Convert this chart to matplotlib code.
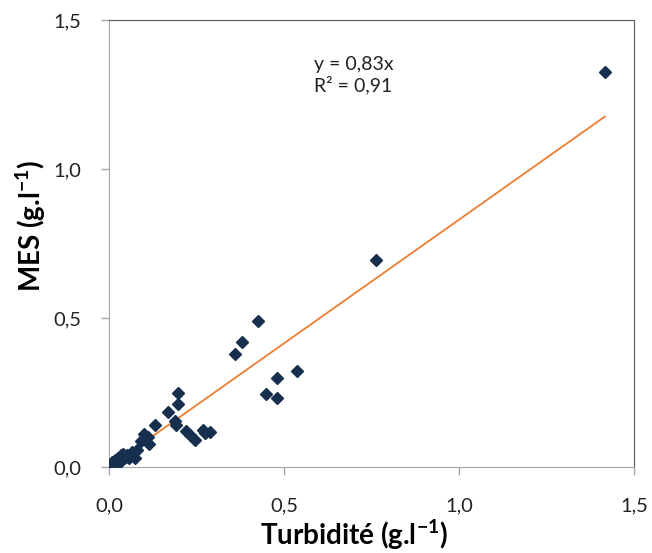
import numpy as np
import matplotlib.pyplot as plt

plt.rcParams['font.family'] = ['Lato', 'DejaVu Sans']
plt.rcParams['mathtext.fontset'] = 'custom'
plt.rcParams['mathtext.rm'] = 'Lato'
plt.rcParams['mathtext.bf'] = 'Lato:bold'

# Turbidity (x) vs MES (y), g/l
turbidite = [1.417, 0.763, 0.426, 0.380, 0.360, 0.537, 0.480, 0.449, 0.480,
             0.197, 0.197, 0.169, 0.189, 0.191, 0.131, 0.220, 0.231, 0.246,
             0.269, 0.274, 0.289, 0.100, 0.111, 0.114, 0.091, 0.080, 0.066,
             0.074, 0.009, 0.017, 0.026, 0.034, 0.043, 0.051, 0.031, 0.003,
             0.014, 0.057, 0.040, 0.048]
mes = [1.326, 0.695, 0.490, 0.419, 0.379, 0.322, 0.299, 0.245, 0.232,
       0.248, 0.211, 0.185, 0.154, 0.141, 0.141, 0.120, 0.107, 0.090,
       0.124, 0.114, 0.117, 0.110, 0.100, 0.077, 0.087, 0.057, 0.050,
       0.030, 0.017, 0.023, 0.030, 0.040, 0.030, 0.040, 0.017, 0.007,
       0.010, 0.030, 0.045, 0.035]
slope = 0.83
r2 = 0.91

ticks = [0.0, 0.5, 1.0, 1.5]
tick_labels = ['0,0', '0,5', '1,0', '1,5']

fig = plt.figure(figsize=(6.52, 5.53), dpi=100)
ax = fig.add_axes([0.1672, 0.1555, 0.8052, 0.8083])

x = np.array(turbidite)
y = np.array(mes)
ax.plot(x, y, linestyle='none', marker='D', markersize=6.2,
        color='#172f4e', zorder=3)

xl = np.array([0, x.max()])
ax.plot(xl, slope * xl, color='#ed7d31', linewidth=1.3, zorder=2)

ax.text(0.586, 1.315, 'y = 0,83x\nR² = 0,91', fontsize=14,
        va='center', ha='left', linespacing=1.2, color='#222222')

ax.set_xlim(0, 1.5)
ax.set_ylim(0, 1.5)
ax.set_xticks(ticks)
ax.set_xticklabels(tick_labels)
ax.set_yticks(ticks)
ax.set_yticklabels(tick_labels)
ax.tick_params(axis='both', direction='out', length=6, width=1,
               color='#a6a6a6', labelsize=14.5, labelcolor='#222222')
ax.tick_params(axis='x', pad=16)
ax.tick_params(axis='y', pad=14)

for s in ['left', 'bottom']:
    ax.spines[s].set_color('#a6a6a6')
for s in ['top', 'right']:
    ax.spines[s].set_color('#595959')

ax.set_xlabel(r'Turbidité (g.l$^{\mathbf{-1}}$)', fontsize=20,
              fontweight='bold')
ax.set_ylabel(r'MES (g.l$^{\mathbf{-1}}$)', fontsize=20,
              fontweight='bold')
ax.xaxis.set_label_coords(0.467, -0.152)
ax.xaxis.label.set_va('center')
ax.yaxis.set_label_coords(-0.150, 0.539)
ax.yaxis.label.set_va('center')

fig.savefig('out.png', dpi=100)
